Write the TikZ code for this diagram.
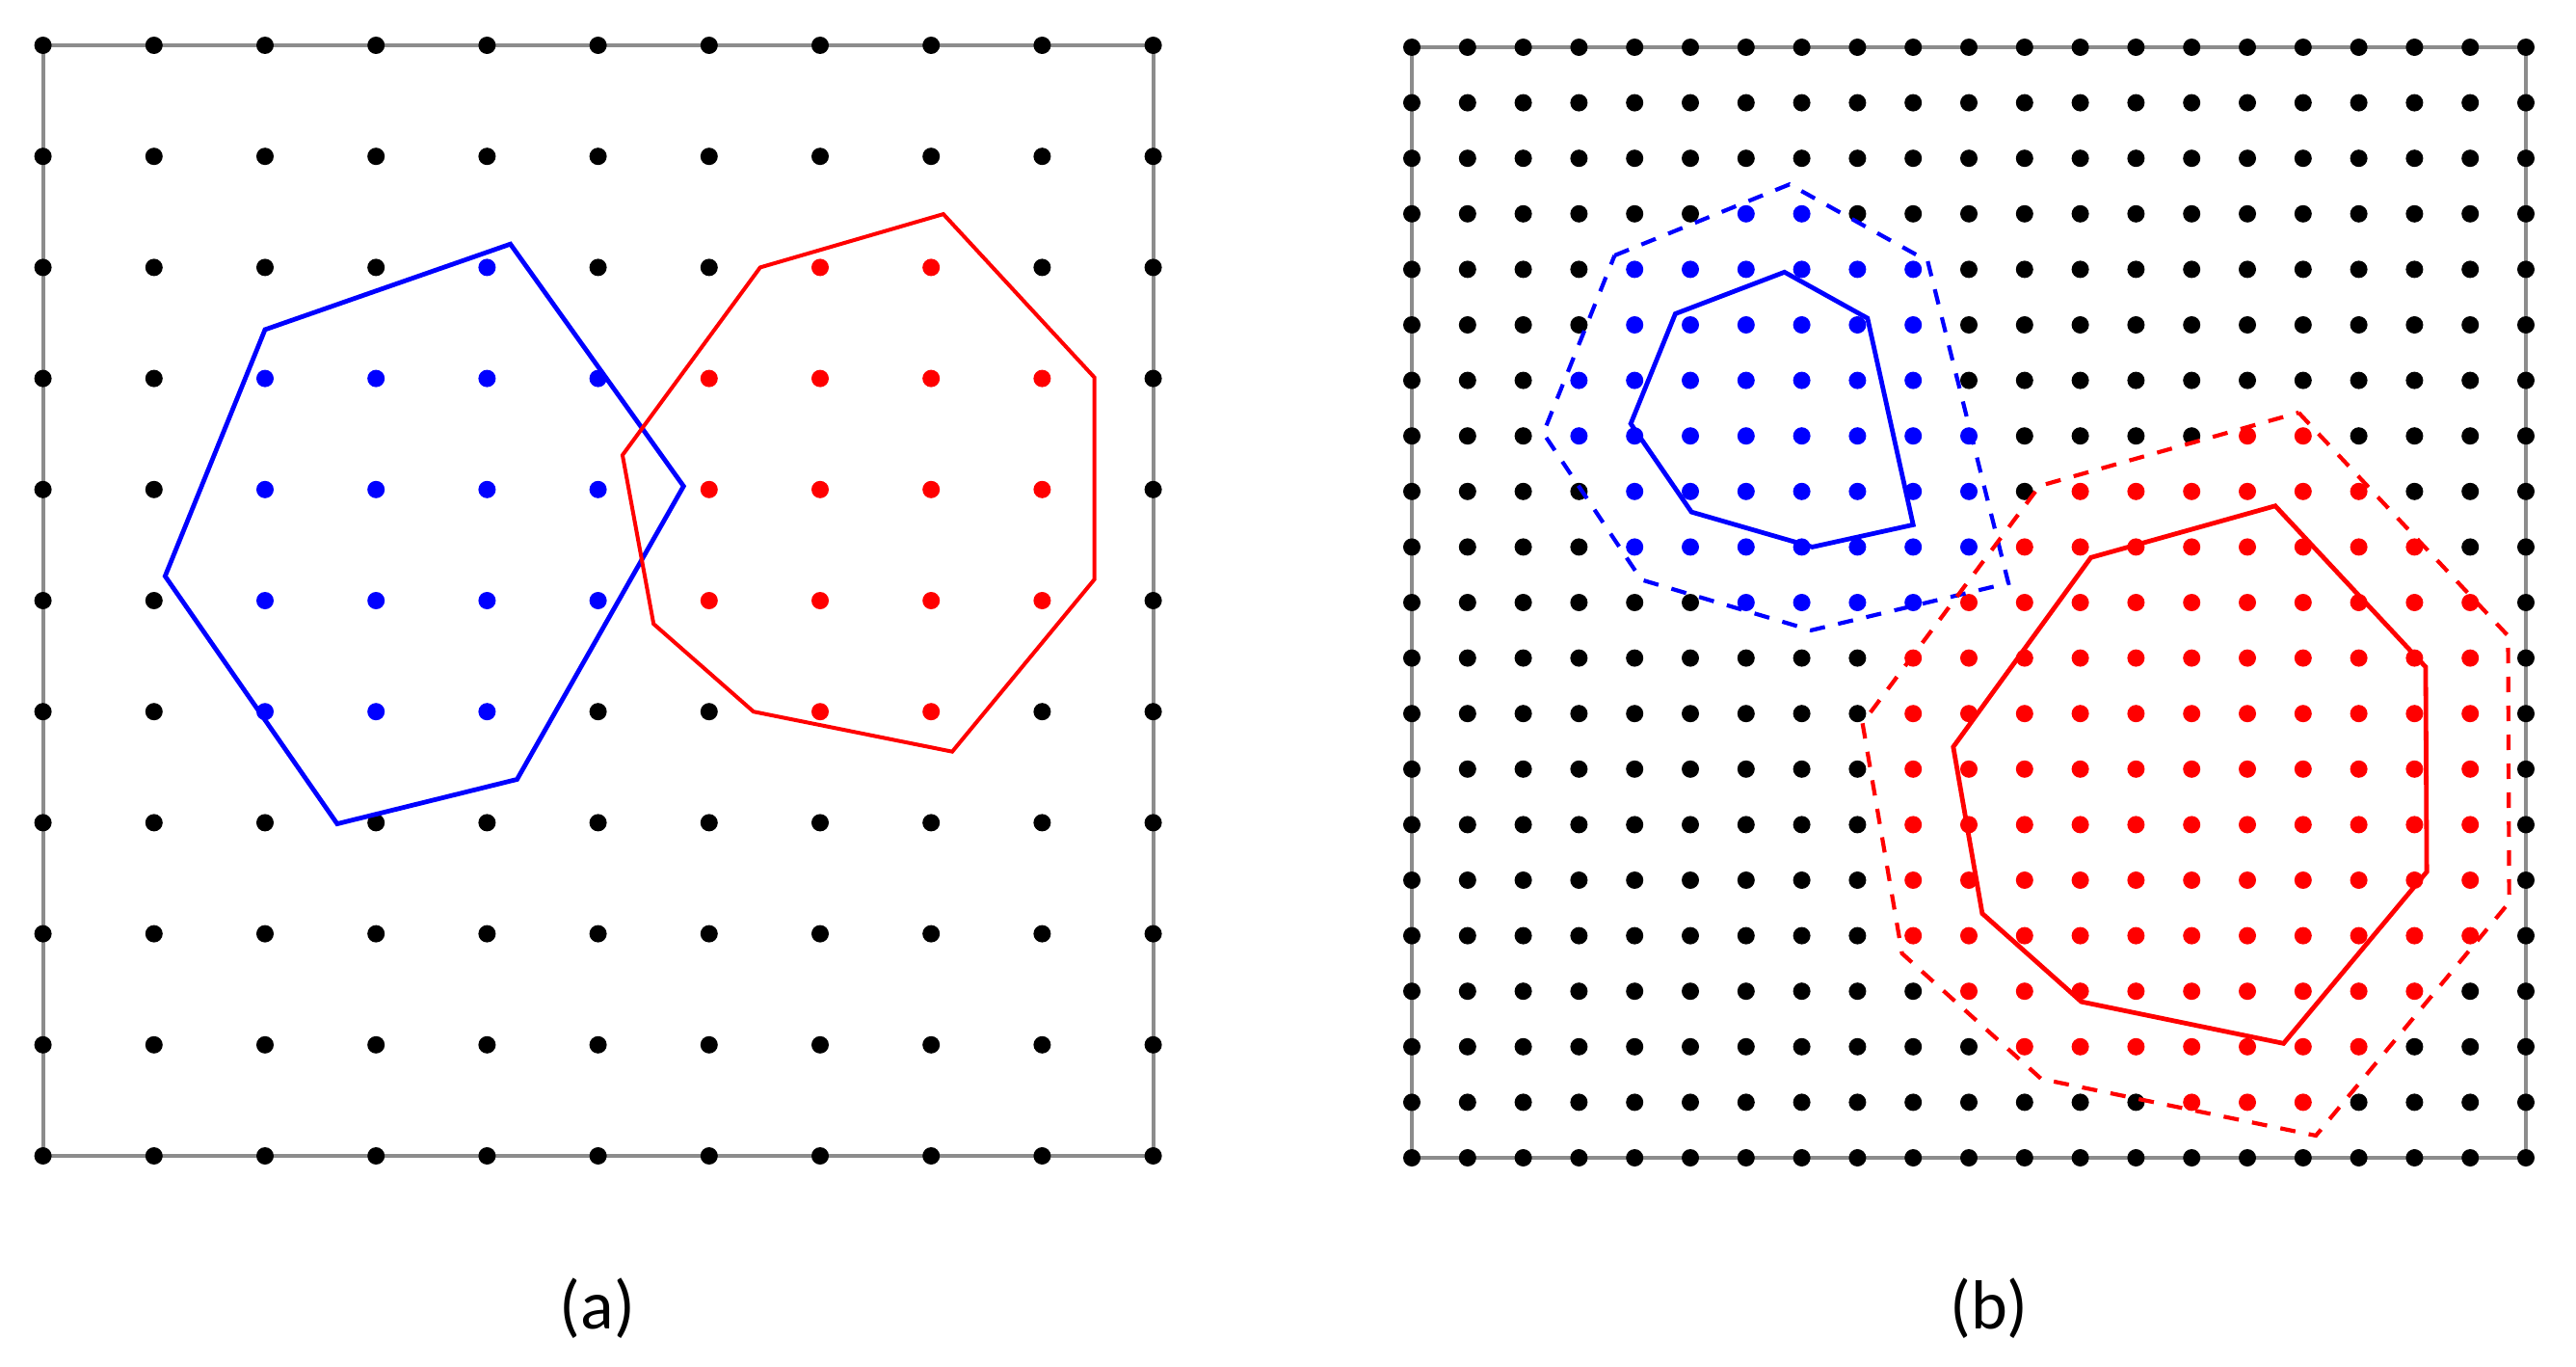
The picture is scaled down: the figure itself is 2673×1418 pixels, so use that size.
\documentclass[tikz,border=0pt]{standalone}
\usepackage{fontspec}
\setmainfont{Carlito}
\begin{document}
\tikzset{
  frame/.style={draw=black!45, line width=1.9pt},
  bluepoly/.style={draw=blue, line width=2.4pt, line join=miter},
  redpoly/.style={draw=red, line width=2.2pt, line join=miter},
  dashpoly/.style={line width=2.1pt, dash pattern=on 8pt off 7pt},
  lbl/.style={font=\fontsize{36}{40}\selectfont, inner sep=0pt},
  gdot/.style={radius=4.5pt}
}
\begin{tikzpicture}[x=0.5pt,y=-0.5pt]
\useasboundingbox (0,0) rectangle (2673,1418);
\fill[white] (0,0) rectangle (2673,1418);
% ---------- panel (a) ----------
\begin{scope}[shift={(44.6,47)},x=57.6pt,y=-57.6pt]
  \draw[frame] (0,0) rectangle (10,10);
  \foreach \j/\bl/\bh/\rl/\rh in {0/99/0/99/0,1/99/0/99/0,2/4/4/7/8,3/2/5/6/9,4/2/5/6/9,5/2/5/6/9,6/2/4/7/8,7/99/0/99/0,8/99/0/99/0,9/99/0/99/0,10/99/0/99/0}{
    \foreach \i in {0,...,10}{
      \def\dotcol{black}
      \ifnum\i<\bl\relax\else\ifnum\i>\bh\relax\else\def\dotcol{blue}\fi\fi
      \ifnum\i<\rl\relax\else\ifnum\i>\rh\relax\else\def\dotcol{red}\fi\fi
      \fill[fill=\dotcol] (\i,\j) circle[gdot];
    }
  }
  \draw[bluepoly] (2.0,2.56) -- (4.21,1.79) -- (5.77,3.97) -- (4.27,6.61) -- (2.65,7.01) -- (1.10,4.78) -- cycle;
  \draw[redpoly,line width=2pt] (6.46,2.0) -- (8.11,1.52) -- (9.47,2.99) -- (9.47,4.81) -- (8.19,6.36) -- (6.40,6.0) -- (5.50,5.21) -- (5.22,3.69) -- cycle;
\end{scope}
% ---------- panel (b) ----------
\begin{scope}[shift={(1465,49)},x=28.9pt,y=-28.8pt]
  \draw[frame] (0,0) rectangle (20,20);
  \foreach \j/\bl/\bh/\rl/\rh in {0/99/0/99/0,1/99/0/99/0,2/99/0/99/0,3/6/7/99/0,4/4/9/99/0,5/4/9/99/0,6/3/9/99/0,7/3/10/15/16,8/4/10/12/17,9/4/10/11/18,10/6/9/10/19,11/99/0/9/19,12/99/0/9/19,13/99/0/9/19,14/99/0/9/19,15/99/0/9/19,16/99/0/9/19,17/99/0/10/18,18/99/0/11/17,19/99/0/14/16,20/99/0/99/0}{
    \foreach \i in {0,...,20}{
      \def\dotcol{black}
      \ifnum\i<\bl\relax\else\ifnum\i>\bh\relax\else\def\dotcol{blue}\fi\fi
      \ifnum\i<\rl\relax\else\ifnum\i>\rh\relax\else\def\dotcol{red}\fi\fi
      \fill[fill=\dotcol] (\i,\j) circle[gdot];
    }
  }
  \draw[bluepoly] (4.73,4.80) -- (6.69,4.05) -- (8.18,4.88) -- (9.0,8.60) -- (7.19,9.0) -- (5.02,8.37) -- (3.93,6.78) -- cycle;
  \draw[bluepoly,dashpoly] (3.64,3.75) -- (6.78,2.47) -- (9.26,3.85) -- (10.71,9.65) -- (7.17,10.5) -- (4.12,9.59) -- (2.36,6.95) -- cycle;
  \draw[redpoly,line width=2.4pt] (12.19,9.19) -- (15.5,8.26) -- (18.2,11.16) -- (18.22,14.85) -- (15.65,17.94) -- (12.02,17.19) -- (10.24,15.6) -- (9.72,12.6) -- cycle;
  \draw[redpoly,dashpoly] (15.92,6.58) -- (19.68,10.6) -- (19.7,15.4) -- (16.23,19.6) -- (11.3,18.58) -- (8.8,16.32) -- (8.09,12.17) -- (11.27,7.9) -- cycle;
\end{scope}
% ---------- labels ----------
\node[lbl] (la) at (620,1357) {(a)};
\node[lbl] (lb) at (2064,1357) {(b)};
\end{tikzpicture}
\end{document}
